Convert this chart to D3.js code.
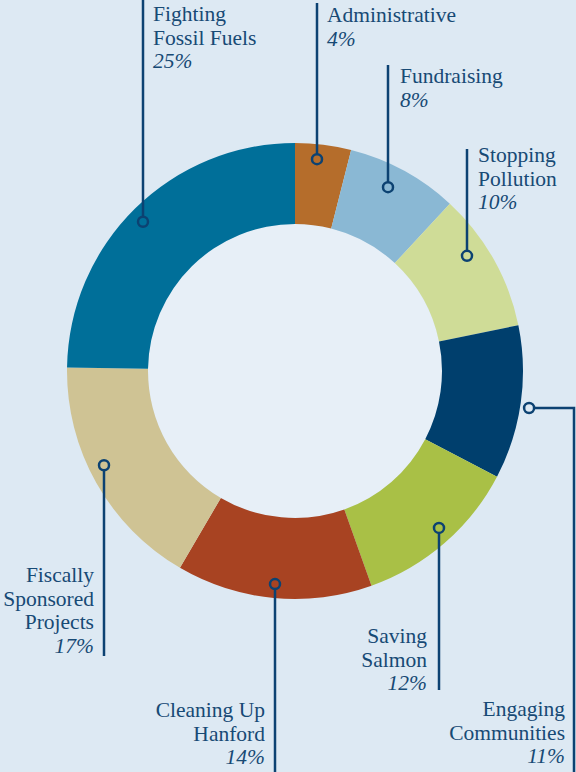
<!DOCTYPE html>
<html>
<head>
<meta charset="utf-8">
<script src="https://cdn.jsdelivr.net/npm/d3@7"></script>
</head>
<body style="margin:0;background:#dde9f3">
<script>
// chart data
const categories = ["Administrative", "Fundraising", "Stopping Pollution", "Engaging Communities",
  "Saving Salmon", "Cleaning Up Hanford", "Fiscally Sponsored Projects", "Fighting Fossil Fuels"];
const values = [4, 8, 10, 11, 12, 14, 17, 25];
const labelLines = [
  ["Administrative"], ["Fundraising"], ["Stopping", "Pollution"], ["Engaging", "Communities"],
  ["Saving", "Salmon"], ["Cleaning Up", "Hanford"], ["Fiscally", "Sponsored", "Projects"], ["Fighting", "Fossil Fuels"]
];
const colours = ["#b56d2b", "#8ab8d4", "#cfdc97", "#003f6d", "#a9c046", "#a84322", "#cfc394", "#006f99"];

// callout layout: leader x, marker radius, line end and text position
const callouts = [
  { side: "top", lx: 317, mr: 213, lineEnd: 3, tx: 327, ty: 22, anchor: "start" },
  { side: "top", lx: 388, mr: 206, lineEnd: 65, tx: 400, ty: 83, anchor: "start" },
  { side: "top", lx: 467, mr: 207, lineEnd: 149, tx: 478, ty: 162, anchor: "start" },
  { side: "elbow", ly: 408, mr: 237, lineEnd: 772, elbowX: 574, tx: 565, ty: 716, anchor: "end" },
  { side: "bottom", lx: 439, mr: 213, lineEnd: 690, tx: 427, ty: 643, anchor: "end" },
  { side: "bottom", lx: 275, mr: 214, lineEnd: 772, tx: 265, ty: 717, anchor: "end" },
  { side: "bottom", lx: 104, mr: 213, lineEnd: 656, tx: 94, ty: 582, anchor: "end" },
  { side: "top", lx: 143, mr: 213, lineEnd: 0, tx: 153, ty: 21, anchor: "start" }
];

const width = 576, height = 772;
const cx = 295, cy = 371;
const outerR = 228, innerR = 147;
const lineH = 23.5;
const ink = "#0c4272";

const svg = d3.select("body").append("svg")
  .attr("width", width)
  .attr("height", height)
  .style("display", "block")
  .style("font-family", "\"Liberation Serif\"");

svg.append("rect").attr("width", width).attr("height", height).attr("fill", "#dde9f3");

const g = svg.append("g").attr("transform", "translate(" + cx + "," + cy + ")");

const data = categories.map((c, i) => ({ name: c, value: values[i], lines: labelLines[i], colour: colours[i], call: callouts[i] }));

const pie = d3.pie().sort(null).value(d => d.value);
const arcs = pie(data);

const arc = d3.arc().innerRadius(innerR).outerRadius(outerR);

// inner hole
g.append("circle").attr("r", innerR).attr("fill", "#e7eff7");

g.selectAll("path.slice")
  .data(arcs)
  .join("path")
  .attr("class", "slice")
  .attr("d", arc)
  .attr("fill", d => d.data.colour);

// callouts
arcs.forEach(function (d) {
  const c = d.data.call;
  let mx, my, path;
  if (c.side === "elbow") {
    my = c.ly;
    mx = cx + Math.sqrt(c.mr * c.mr - (my - cy) * (my - cy));
    path = "M" + (mx + 5) + "," + my + "H" + c.elbowX + "V" + c.lineEnd;
  } else {
    mx = c.lx;
    const dy = Math.sqrt(c.mr * c.mr - (mx - cx) * (mx - cx));
    if (c.side === "top") {
      my = cy - dy;
      path = "M" + mx + "," + (my - 5) + "V" + c.lineEnd;
    } else {
      my = cy + dy;
      path = "M" + mx + "," + (my + 5) + "V" + c.lineEnd;
    }
  }
  svg.append("path")
    .attr("d", path)
    .attr("fill", "none")
    .attr("stroke", ink)
    .attr("stroke-width", 2.5);

  svg.append("circle")
    .attr("cx", mx).attr("cy", my).attr("r", 5)
    .attr("fill", "none")
    .attr("stroke", ink)
    .attr("stroke-width", 2.5);

  // one text element per line
  const lines = d.data.lines.concat([d.data.value + "%"]);
  lines.forEach(function (l, i) {
    svg.append("text")
      .attr("x", c.tx)
      .attr("y", c.ty + i * lineH)
      .attr("font-size", 21.5)
      .attr("fill", "#174a75")
      .attr("text-anchor", c.anchor)
      .style("font-family", "\"Liberation Serif\"")
      .style("font-style", i === lines.length - 1 ? "italic" : "normal")
      .text(l);
  });
});
</script>
</body>
</html>
